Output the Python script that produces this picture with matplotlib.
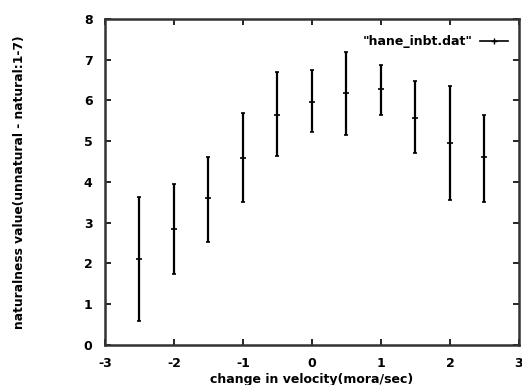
import matplotlib
matplotlib.use("Agg")
import matplotlib.pyplot as plt
from matplotlib.lines import Line2D

plt.rcParams['axes.unicode_minus'] = False
plt.rcParams['font.family'] = ['DejaVu Sans']

velocity_change = [-2.5, -2.0, -1.5, -1.0, -0.5, 0.0, 0.5, 1.0, 1.5, 2.0, 2.5]
mean_naturalness = [2.11, 2.85, 3.60, 4.59, 5.64, 5.96, 6.19, 6.28, 5.57, 4.96, 4.61]
upper_value = [3.63, 3.95, 4.61, 5.69, 6.70, 6.75, 7.19, 6.87, 6.48, 6.36, 5.64]
lower_value = [0.59, 1.74, 2.53, 3.51, 4.64, 5.23, 5.15, 5.64, 4.71, 3.56, 3.50]
x_ticks = [-3, -2, -1, 0, 1, 2, 3]
y_ticks = [0, 1, 2, 3, 4, 5, 6, 7, 8]
legend_label = '"hane_inbt.dat"'

err_low = [m - l for m, l in zip(mean_naturalness, lower_value)]
err_high = [u - m for m, u in zip(mean_naturalness, upper_value)]

fig = plt.figure(figsize=(5.22, 3.85), dpi=100)
ax = fig.add_axes([0.201, 0.104, 0.793, 0.847])

ax.errorbar(velocity_change, mean_naturalness, yerr=[err_low, err_high],
            fmt='+', color='black', ecolor='black', elinewidth=1.6,
            markersize=4, markeredgewidth=1.2, capsize=1.2, capthick=1.0)

ax.set_xlim(-3, 3)
ax.set_ylim(0, 8)
ax.set_xticks(x_ticks)
ax.set_yticks(y_ticks)
ax.tick_params(direction='in', length=4, width=1.2, top=True, right=True,
               labelsize=9)
ax.tick_params(axis='x', pad=9)
ax.tick_params(axis='y', pad=9)
for lab in ax.get_xticklabels() + ax.get_yticklabels():
    lab.set_fontweight('bold')
for sp in ax.spines.values():
    sp.set_linewidth(1.8)
    sp.set_color('#333333')

ax.set_xlabel('change in velocity(mora/sec)', fontsize=9, fontweight='bold')
ax.set_ylabel('naturalness value(unnatural - natural:1-7)', fontsize=8.8,
              fontweight='bold')
ax.xaxis.set_label_coords(0.5, -0.085)
ax.yaxis.set_label_coords(-0.19, 0.5)

handle = Line2D([], [], color='black', marker='+', markersize=4, linewidth=1.2)
ax.legend([handle], [legend_label], loc='upper right', frameon=False,
          markerfirst=False, handlelength=2.2, handletextpad=0.6,
          bbox_to_anchor=(1.0, 0.985), prop={'weight': 'bold', 'size': 9})

fig.savefig('out.png', dpi=100, facecolor='white')
